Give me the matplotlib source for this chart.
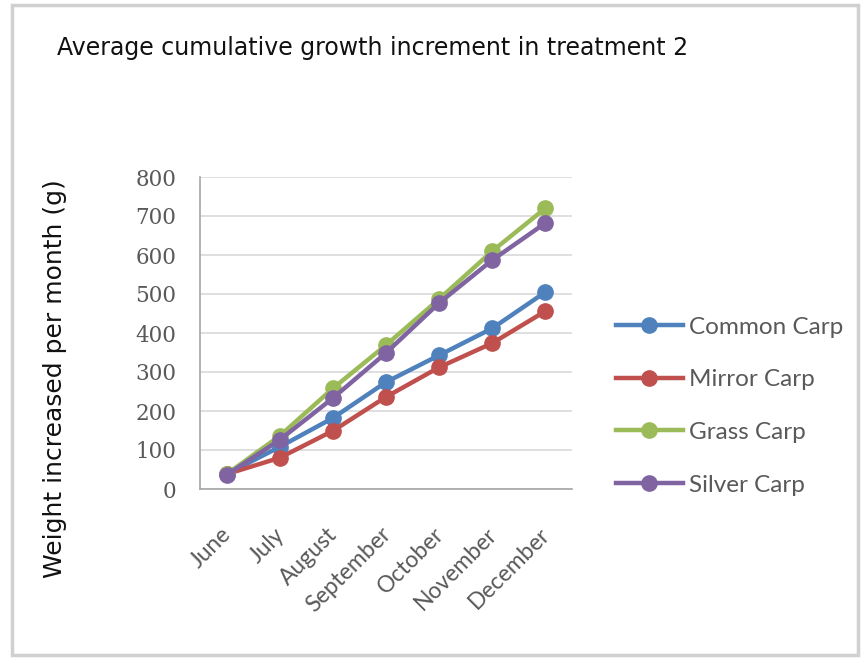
import matplotlib
matplotlib.use("Agg")
import matplotlib.pyplot as plt
import matplotlib.transforms as mtransforms
from matplotlib.patches import Rectangle

months = ["June", "July", "August", "September", "October", "November", "December"]
common_carp = [38, 108, 182, 274, 343, 412, 505]
mirror_carp = [38, 80, 149, 236, 312, 374, 456]
grass_carp = [38, 136, 258, 369, 487, 610, 720]
silver_carp = [36, 126, 233, 349, 477, 587, 682]
yticks = [0, 100, 200, 300, 400, 500, 600, 700, 800]

series = [
    ("Common Carp", common_carp, "#4F81BD"),
    ("Mirror Carp", mirror_carp, "#C0504D"),
    ("Grass Carp", grass_carp, "#9BBB59"),
    ("Silver Carp", silver_carp, "#8064A2"),
]

W, H = 863, 658
fig = plt.figure(figsize=(W / 100, H / 100), dpi=100)
fig.patch.set_facecolor("white")

# outer chart frame
fig.add_artist(Rectangle((12 / W, 3 / H), 846 / W, 650 / H, transform=fig.transFigure,
                         fill=False, edgecolor="#d0d0d0", linewidth=2.5))

ax = fig.add_axes([200 / W, (H - 489) / H, (572 - 200) / W, (489 - 177) / H])
x = list(range(len(months)))
for name, vals, col in series:
    ax.plot(x, vals, color=col, linewidth=3.2, marker="o", markersize=11, label=name)

ax.set_xlim(-0.5, len(months) - 0.5)
ax.set_ylim(0, 800)
ax.set_yticks(yticks)
ax.set_yticklabels([str(v) for v in yticks], fontfamily="DejaVu Serif", fontsize=15.5, color="#595959")
ax.set_xticks(x)
ax.set_xticklabels(months, rotation=45, ha="right", rotation_mode="anchor",
                   fontfamily="Lato", fontsize=16.5, color="#595959")
ax.tick_params(axis="y", length=0, pad=17)
ax.tick_params(axis="x", length=0, pad=25)
shift = mtransforms.ScaledTranslation(-6 / 100, 0, fig.dpi_scale_trans)
for lbl in ax.get_xticklabels():
    lbl.set_transform(lbl.get_transform() + shift)
ax.grid(axis="y", color="#d9d9d9", linewidth=1.2)
ax.set_axisbelow(True)
for s in ["top", "right"]:
    ax.spines[s].set_visible(False)
for s in ["left", "bottom"]:
    ax.spines[s].set_color("#a6a6a6")
    ax.spines[s].set_linewidth(1.2)

fig.text(57 / W, 1 - 48 / H, "Average cumulative growth increment in treatment 2",
         fontfamily="DejaVu Sans", fontsize=17, va="center", ha="left", color="#111111")
fig.text(55 / W, 1 - 379 / H, "Weight increased per month (g)", rotation=90,
         fontfamily="DejaVu Sans", fontsize=18, va="center", ha="center", color="#111111")

leg = ax.legend(loc="upper left", bbox_to_anchor=(606 / W, 1 - 307 / H), bbox_transform=fig.transFigure,
                frameon=False, prop={"family": "Lato", "size": 17.5}, labelspacing=1.3,
                handlelength=2.75, handletextpad=0.25, borderaxespad=0)
for t in leg.get_texts():
    t.set_color("#595959")

fig.savefig("out.png", dpi=100)
